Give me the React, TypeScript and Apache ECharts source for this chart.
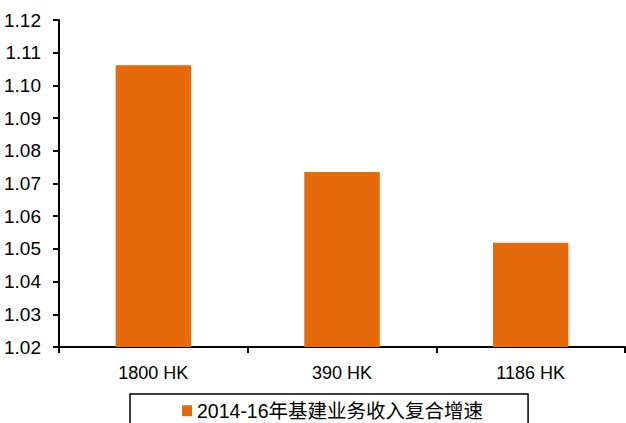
import React, { useEffect, useRef } from "react";
import * as echarts from "echarts";

const categories = ["1800 HK", "390 HK", "1186 HK"];
const growthValues = [1.1062, 1.0735, 1.0519];
const seriesName = "2014-16年基建业务收入复合增速";
const yMin = 1.02;
const yMax = 1.12;
const yStep = 0.01;

export default function App() {
  const ref = useRef<HTMLDivElement>(null);

  useEffect(() => {
    if (!ref.current) return;
    const chart = echarts.init(ref.current, null, { renderer: "svg" });
    const axisFont = "'Liberation Sans', Arial, sans-serif";
    chart.setOption({
      animation: false,
      backgroundColor: "#ffffff",
      grid: { left: 59, right: 1, top: 20, bottom: 76, containLabel: false },
      legend: {
        data: [seriesName],
        left: 130,
        top: 394,
        itemWidth: 10,
        itemHeight: 11,
        itemGap: 4,
        padding: [7, 45, 20, 52],
        borderColor: "#000",
        borderWidth: 1.5,
        borderRadius: 0,
        icon: "rect",
        textStyle: {
          fontFamily: "'Liberation Sans', 'Noto Sans CJK SC', sans-serif",
          fontSize: 19.5,
          color: "#000",
        },
      },
      xAxis: {
        type: "category",
        data: categories,
        axisLine: { lineStyle: { color: "#000", width: 2 } },
        axisTick: { show: true, inside: false, length: 6, alignWithLabel: false, lineStyle: { color: "#000", width: 2 } },
        axisLabel: { color: "#000", fontSize: 18, fontFamily: axisFont, margin: 17 },
        splitLine: { show: false },
      },
      yAxis: {
        type: "value",
        min: yMin,
        max: yMax,
        interval: yStep,
        axisLine: { show: true, lineStyle: { color: "#000", width: 2 } },
        axisTick: { show: true, inside: false, length: 6, lineStyle: { color: "#000", width: 2 } },
        axisLabel: {
          color: "#000",
          fontSize: 19,
          fontFamily: axisFont,
          margin: 18,
          formatter: (v: number) => v.toFixed(2),
        },
        splitLine: { show: false },
      },
      series: [
        {
          name: seriesName,
          type: "bar",
          data: growthValues,
          barWidth: "40%",
          itemStyle: { color: "#E46A0B" },
        },
      ],
    });
    return () => chart.dispose();
  }, []);

  return (
    <div
      ref={ref}
      style={{ position: "fixed", left: 0, top: 0, width: 626, height: 423 }}
    />
  );
}
